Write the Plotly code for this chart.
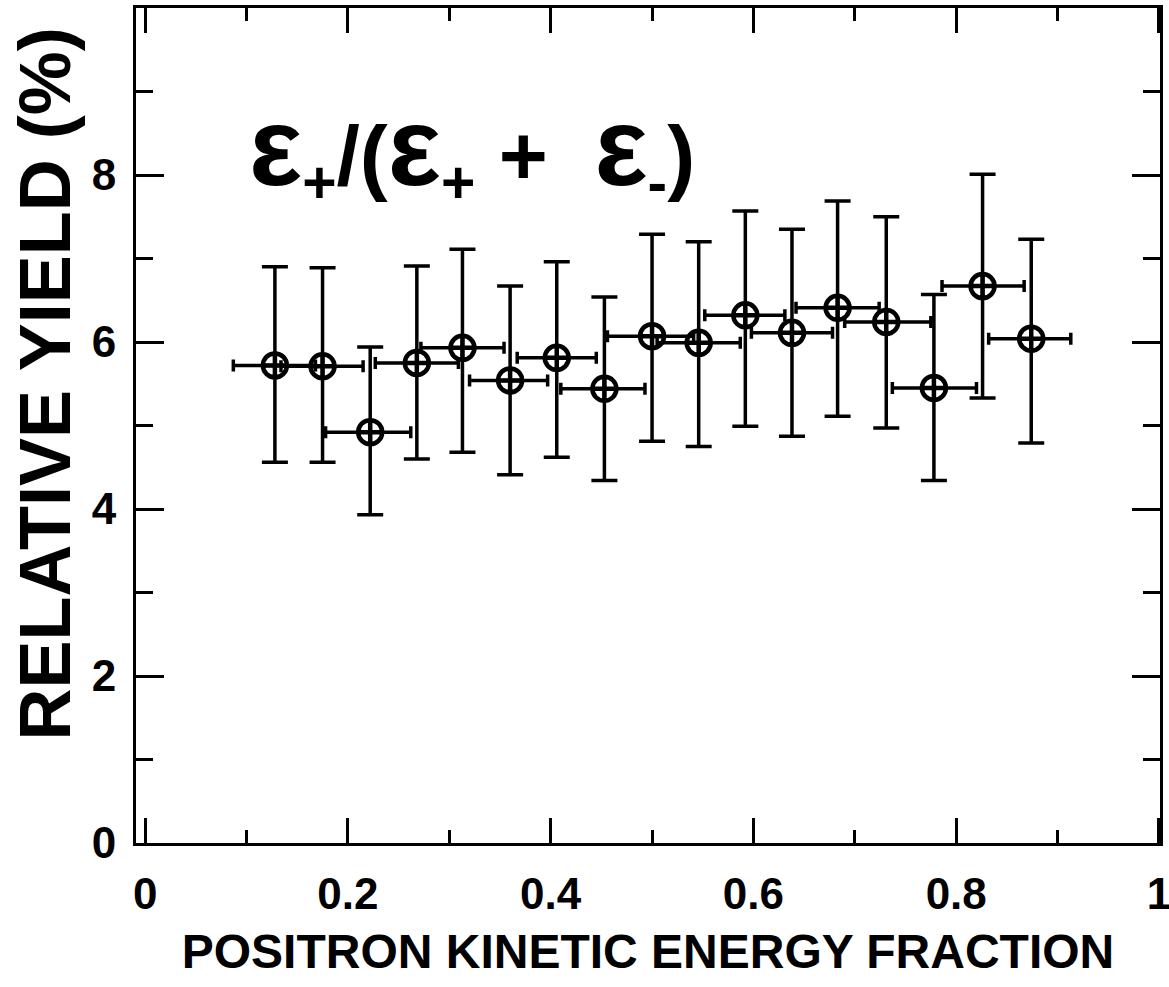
import plotly.graph_objects as go

# Data
x_frac = [0.128, 0.175, 0.222, 0.268, 0.313, 0.360, 0.406, 0.453, 0.500,
          0.546, 0.592, 0.638, 0.683, 0.731, 0.778, 0.826, 0.874]
y_yield = [5.72, 5.71, 4.92, 5.75, 5.93, 5.54, 5.81, 5.44, 6.07,
           5.99, 6.32, 6.11, 6.41, 6.24, 5.45, 6.67, 6.04]
y_upper = [6.90, 6.89, 5.94, 6.91, 7.11, 6.67, 6.96, 6.54, 7.29,
           7.20, 7.57, 7.35, 7.69, 7.50, 6.57, 8.01, 7.23]
y_lower = [4.56, 4.56, 3.93, 4.60, 4.68, 4.41, 4.62, 4.34, 4.81,
           4.75, 4.99, 4.87, 5.11, 4.97, 4.34, 5.33, 4.79]
x_err_minus = [0.041, 0.041, 0.044, 0.041, 0.041, 0.040, 0.039, 0.043, 0.044,
               0.041, 0.040, 0.040, 0.041, 0.041, 0.041, 0.040, 0.042]
x_err_plus = [0.040, 0.040, 0.040, 0.041, 0.041, 0.037, 0.039, 0.040, 0.041,
              0.041, 0.039, 0.040, 0.041, 0.044, 0.042, 0.041, 0.039]

x_tickvals = [0, 0.2, 0.4, 0.6, 0.8, 1.0]
x_ticktext = ["0", "0.2", "0.4", "0.6", "0.8", "1"]
x_minor = [0.1, 0.3, 0.5, 0.7, 0.9]
y_tickvals = [0, 2, 4, 6, 8]
y_ticktext = ["0", "2", "4", "6", "8"]
y_minor = [1, 3, 5, 7, 9]

err_plus = [u - v for u, v in zip(y_upper, y_yield)]
err_minus = [v - l for v, l in zip(y_yield, y_lower)]

FONT = "Liberation Sans, Arial, Helvetica, sans-serif"

fig = go.Figure()
fig.add_trace(go.Scatter(
    x=x_frac, y=y_yield, mode="markers",
    marker=dict(symbol="circle-cross-open", size=24, color="black",
                line=dict(width=4.5, color="black")),
    error_y=dict(type="data", symmetric=False, array=err_plus,
                 arrayminus=err_minus, color="black", thickness=3.5, width=13),
    error_x=dict(type="data", symmetric=False, array=x_err_plus,
                 arrayminus=x_err_minus, color="black", thickness=3.5, width=6),
    showlegend=False,
))

fig.add_annotation(
    x=0.100, y=8.3, xref="x", yref="y", xanchor="left", yanchor="middle",
    showarrow=False,
    text=("<b><span style='font-size:112px'>ε</span><sub>+</sub>/"
          "(<span style='font-size:112px'>ε</span><sub>+</sub> + "
          " <span style='font-size:112px'>ε</span><sub>-</sub>)</b>"),
    font=dict(family=FONT, size=84, color="black"),
)

# y-axis title as a rotated annotation (slightly above the plot centre, as in the reference)
fig.add_annotation(
    x=-0.089, y=0.55, xref="paper", yref="paper",
    text="<b>RELATIVE YIELD (%)</b>", textangle=-90, showarrow=False,
    font=dict(family=FONT, size=72, color="black"),
    xanchor="center", yanchor="middle",
)

fig.update_layout(
    width=1169, height=987,
    margin=dict(l=136, r=9, t=8, b=144, autoexpand=False),
    paper_bgcolor="white", plot_bgcolor="white",
    font=dict(family=FONT, color="black"),
)

fig.update_xaxes(
    range=[-0.009, 1.001], showgrid=False, zeroline=False,
    showline=True, linewidth=3, linecolor="black", mirror="ticks",
    ticks="inside", ticklen=25, tickwidth=3, tickcolor="black",
    tickvals=x_tickvals, ticktext=x_ticktext,
    tickfont=dict(family=FONT, size=44, color="black", weight="bold"),
    ticklabelstandoff=10, ticklabeloverflow="allow",
    minor=dict(tickvals=x_minor, ticks="inside", ticklen=13, tickwidth=3,
               tickcolor="black", showgrid=False),
    title=dict(text="<b>POSITRON KINETIC ENERGY FRACTION</b>",
               font=dict(family=FONT, size=48, color="black"), standoff=18),
    automargin=False,
)
fig.update_yaxes(
    range=[0, 10], showgrid=False, zeroline=False,
    showline=True, linewidth=3, linecolor="black", mirror="ticks",
    ticks="inside", ticklen=28, tickwidth=3, tickcolor="black",
    tickvals=y_tickvals, ticktext=y_ticktext,
    tickfont=dict(family=FONT, size=44, color="black", weight="bold"),
    ticklabelstandoff=8,
    minor=dict(tickvals=y_minor, ticks="inside", ticklen=17, tickwidth=3,
               tickcolor="black", showgrid=False),
    automargin=False,
)

fig.write_html("out.html")
